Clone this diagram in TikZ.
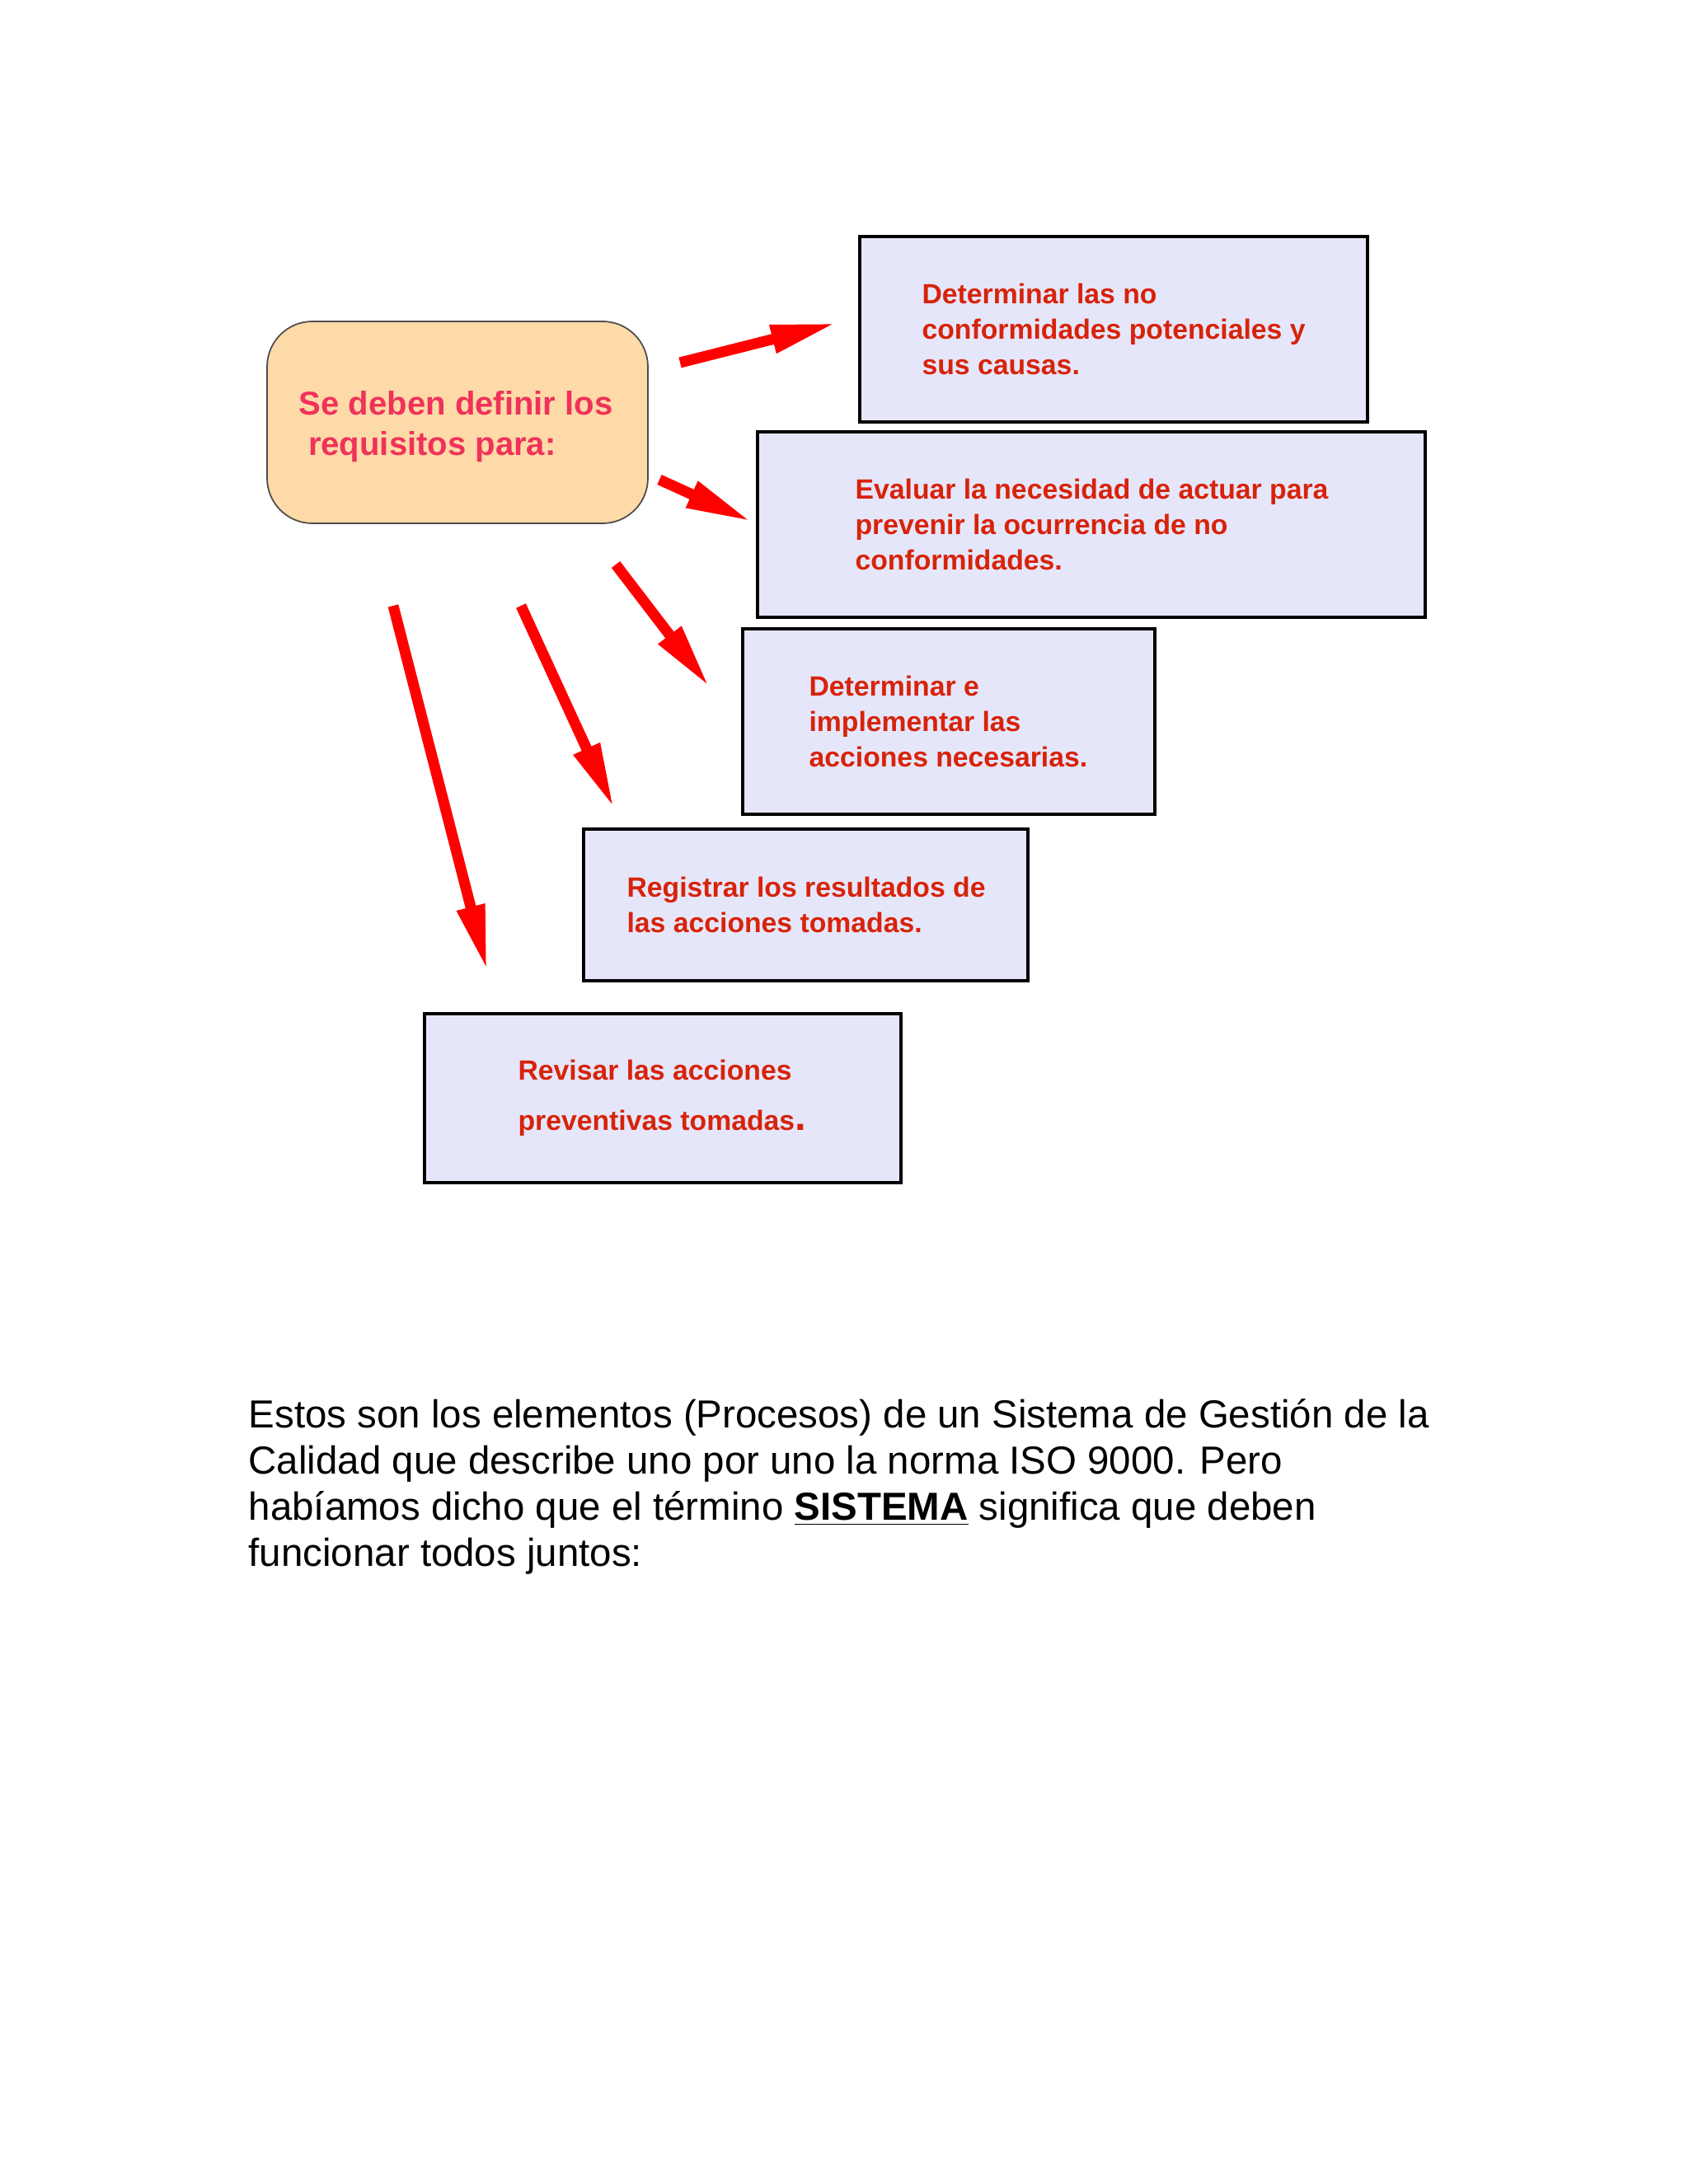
\documentclass[tikz,border=0pt]{standalone}
\usepackage{fontspec}
\setmainfont{Liberation Sans}
\usetikzlibrary{positioning,arrows.meta}
\definecolor{rougetexte}{RGB}{215,35,10}
\definecolor{rosetexte}{RGB}{240,50,90}
\definecolor{peche}{RGB}{253,218,168}
\definecolor{lavande}{RGB}{230,230,250}
\begin{document}
\begin{tikzpicture}[x=1cm,y=-1cm]
	\tikzstyle{fleche}=[-{Triangle[length=8mm,width=3.2mm]},line width=1.3mm,red]
	\tikzstyle{boite}=[draw=black,line width=1.2pt,fill=lavande,inner sep=0pt]
	\tikzstyle{depart}=[draw=black!70,line width=0.5pt,fill=peche,rounded corners=5.5mm,inner sep=0pt]
	\tikzstyle{texte}=[inner sep=0pt,align=left,text=rougetexte,font=\fontsize{9.6}{12.2}\selectfont\bfseries]
	\tikzstyle{corps}=[inner sep=0pt,align=left,font=\fontsize{13.5}{15.9}\selectfont]
	\useasboundingbox (0,0) rectangle (20.48,26.5);
	% point de depart
	\node[depart,minimum width=4.62cm,minimum height=2.45cm] (D) at (5.55,5.125) {};
	\node[texte,text=rosetexte,font=\fontsize{11.4}{13.9}\selectfont\bfseries,right=0.39cm of D.west,yshift=-0.5mm] (tD) {Se deben definir los\\\hspace*{0.28em}requisitos para:};
	% les cinq boites
	\node[boite,minimum width=6.16cm,minimum height=2.25cm] (B1) at (13.51,3.995) {};
	\node[boite,minimum width=8.10cm,minimum height=2.25cm] (B2) at (13.24,6.365) {};
	\node[boite,minimum width=5.00cm,minimum height=2.25cm] (B3) at (11.51,8.755) {};
	\node[boite,minimum width=5.39cm,minimum height=1.84cm] (B4) at (9.775,10.98) {};
	\node[boite,minimum width=5.78cm,minimum height=2.05cm] (B5) at (8.04,13.325) {};
	\node[texte,right=0.77cm of B1.west] (tB1) {Determinar las no\\conformidades potenciales y\\sus causas.};
	\node[texte,right=1.20cm of B2.west] (tB2) {Evaluar la necesidad de actuar para\\prevenir la ocurrencia de no\\conformidades.};
	\node[texte,right=0.82cm of B3.west] (tB3) {Determinar e\\implementar las\\acciones necesarias.};
	\node[texte,right=0.54cm of B4.west] (tB4) {Registrar los resultados de\\las acciones tomadas.};
	\node[texte,font=\fontsize{9.6}{17.4}\selectfont\bfseries,right=1.15cm of B5.west] (tB5) {Revisar las acciones\\preventivas tomadas{\fontsize{14}{17.4}\selectfont.}};
	% fleches
	\coordinate (q1) at (8.25,4.40);  \coordinate (p1) at (10.15,3.92);
	\coordinate (q2) at (8.00,5.82);  \coordinate (p2) at (9.12,6.33);
	\coordinate (q3) at (7.47,6.85);  \coordinate (p3) at (8.61,8.34);
	\coordinate (q4) at (6.32,7.35);  \coordinate (p4) at (7.45,9.81);
	\coordinate (q5) at (4.77,7.35);  \coordinate (p5) at (5.91,11.78);
	\draw[fleche] (q1)--(p1);
	\draw[fleche] (q2)--(p2);
	\draw[fleche] (q3)--(p3);
	\draw[fleche] (q4)--(p4);
	\draw[fleche] (q5)--(p5);
	% texte
	\node[corps,anchor=base west] (P) at (3.01,19.00) {Estos son los elementos (Procesos) de un Sistema de Gestión de la\\Calidad que describe uno por uno la norma ISO 9000. Pero\\habíamos dicho que el término \underline{\textbf{SISTEMA}} significa que deben\\funcionar todos juntos:};
\end{tikzpicture}
\end{document}
